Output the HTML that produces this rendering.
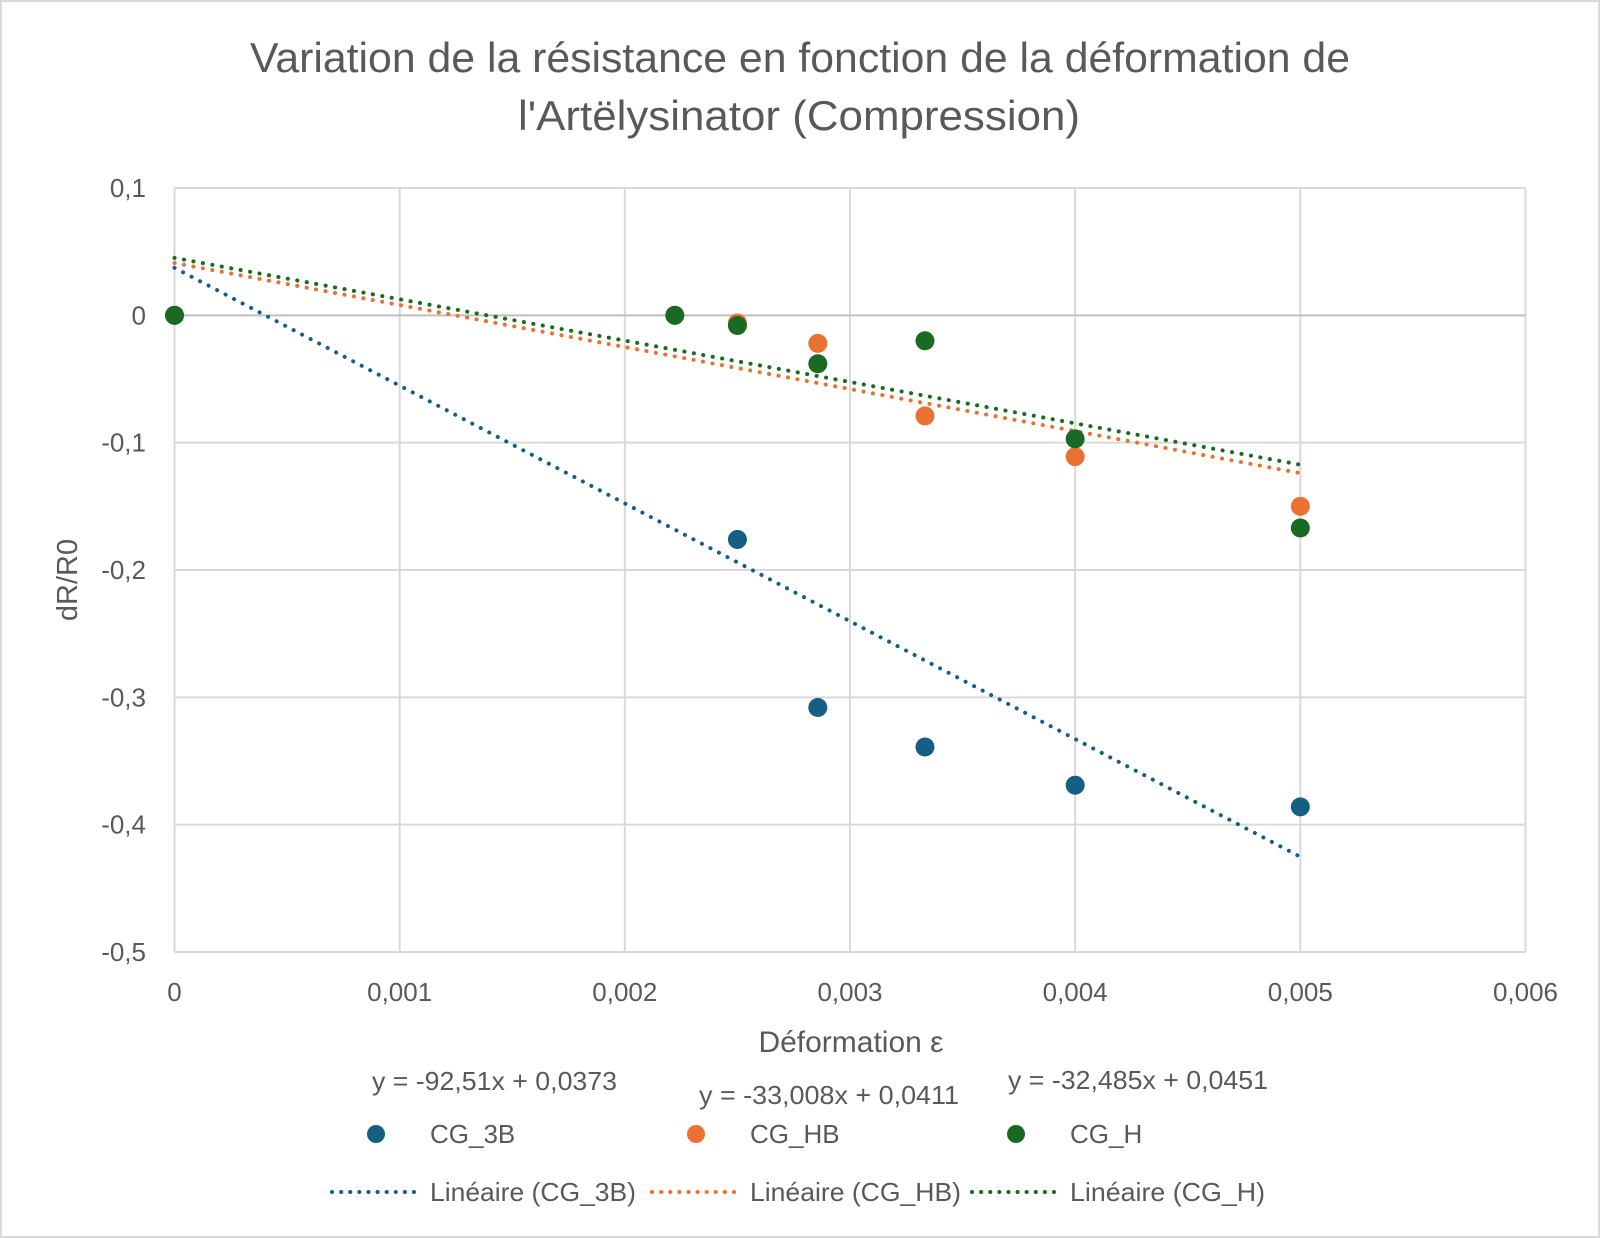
<!DOCTYPE html>
<html><head><meta charset="utf-8"><style>
html,body{margin:0;padding:0;background:#fff}
svg{display:block}
text{font-family:"Liberation Sans Narrow","Liberation Sans",sans-serif;fill:#595959}
</style></head><body>
<svg id="chart" width="1600" height="1238" viewBox="0 0 1600 1238" xmlns="http://www.w3.org/2000/svg">
<rect x="1" y="1" width="1598" height="1236" fill="#fff" stroke="#d9d9d9" stroke-width="2"/>
<text x="250" y="72" font-size="42" textLength="1100" lengthAdjust="spacingAndGlyphs">Variation de la résistance en fonction de la déformation de</text>
<text x="518" y="130" font-size="42" textLength="562" lengthAdjust="spacingAndGlyphs">l'Artëlysinator  (Compression)</text>
<g id="grid"></g>
<g id="ticks"></g>
<g id="trends"></g>
<g id="points"></g>
<text x="851" y="1052" font-size="30" text-anchor="middle">Déformation ε</text>
<text transform="translate(77,580) rotate(-90)" font-size="29" text-anchor="middle">dR/R0</text>
<text x="372" y="1090" font-size="26" textLength="245" lengthAdjust="spacingAndGlyphs">y = -92,51x + 0,0373</text>
<text x="699" y="1104" font-size="26" textLength="260" lengthAdjust="spacingAndGlyphs">y = -33,008x + 0,0411</text>
<text x="1008" y="1089" font-size="26" textLength="260" lengthAdjust="spacingAndGlyphs">y = -32,485x + 0,0451</text>
<g>
<circle cx="376" cy="1134" r="9" fill="#156082"/>
<text x="430" y="1143" font-size="26">CG_3B</text>
<circle cx="696" cy="1134" r="9" fill="#E97132"/>
<text x="750" y="1143" font-size="26">CG_HB</text>
<circle cx="1016" cy="1134" r="9" fill="#196B24"/>
<text x="1070" y="1143" font-size="26">CG_H</text>
<line x1="332" y1="1192" x2="420" y2="1192" stroke="#156082" stroke-width="4" stroke-linecap="round" stroke-dasharray="0.1 9"/>
<text x="430" y="1201" font-size="26" textLength="206" lengthAdjust="spacingAndGlyphs">Linéaire (CG_3B)</text>
<line x1="652" y1="1192" x2="738" y2="1192" stroke="#E97132" stroke-width="4" stroke-linecap="round" stroke-dasharray="0.1 9"/>
<text x="750" y="1201" font-size="26" textLength="211" lengthAdjust="spacingAndGlyphs">Linéaire (CG_HB)</text>
<line x1="972" y1="1192" x2="1060" y2="1192" stroke="#196B24" stroke-width="4" stroke-linecap="round" stroke-dasharray="0.1 9"/>
<text x="1070" y="1201" font-size="26" textLength="195" lengthAdjust="spacingAndGlyphs">Linéaire (CG_H)</text>
</g>
</svg>
<script>
const xTicks=[0,0.001,0.002,0.003,0.004,0.005,0.006];
const xTickLabels=["0","0,001","0,002","0,003","0,004","0,005","0,006"];
const yTicks=[0.1,0,-0.1,-0.2,-0.3,-0.4,-0.5];
const yTickLabels=["0,1","0","-0,1","-0,2","-0,3","-0,4","-0,5"];
const seriesNames=["CG_3B","CG_HB","CG_H"];
const seriesColors=["#156082","#E97132","#196B24"];
const xs3B=[0,0.0025,0.002857,0.003333,0.004,0.005];
const ys3B=[0,-0.176,-0.308,-0.339,-0.369,-0.386];
const xsHB=[0,0.002222,0.0025,0.002857,0.003333,0.004,0.005];
const ysHB=[0,0,-0.006,-0.022,-0.079,-0.111,-0.150];
const xsH=[0,0.002222,0.0025,0.002857,0.003333,0.004,0.005];
const ysH=[0,0,-0.008,-0.038,-0.020,-0.097,-0.167];
const slopes=[-92.51,-33.008,-32.485];
const intercepts=[0.0373,0.0411,0.0451];
const trendRange=[0,0.005];

const L=174.5,R=1525.5,T=188,B=952;
const sx=v=>L+(v-0)/(0.006-0)*(R-L);
const sy=v=>T+(0.1-v)/(0.1-(-0.5))*(B-T);
const NS="http://www.w3.org/2000/svg";
function mk(tag,attrs,parent){const e=document.createElementNS(NS,tag);for(const k in attrs)e.setAttribute(k,attrs[k]);document.getElementById(parent).appendChild(e);return e;}

xTicks.forEach((v,i)=>{
  const l=mk('line',{x1:sx(v),x2:sx(v),y1:T,y2:B,stroke:'#d9d9d9','stroke-width':2},'grid');
  
  
  const t=mk('text',{x:sx(v),y:1001,'font-size':26,'text-anchor':'middle'},'ticks');
  t.textContent=xTickLabels[i];
  
  
});
yTicks.forEach((v,i)=>{
  const l=mk('line',{x1:L,x2:R,y1:sy(v),y2:sy(v),stroke:v===0?'#bfbfbf':'#d9d9d9','stroke-width':2},'grid');
  
  
  const t=mk('text',{x:146,y:sy(v)+9,'font-size':26,'text-anchor':'end'},'ticks');
  t.textContent=yTickLabels[i];
  
  
});
slopes.forEach((m,i)=>{
  const x0=trendRange[0],x1=trendRange[1];
  const l=mk('line',{x1:sx(x0),y1:sy(m*x0+intercepts[i]),x2:sx(x1),y2:sy(m*x1+intercepts[i]),stroke:seriesColors[i],'stroke-width':4,'stroke-linecap':'round','stroke-dasharray':'0.1 9.5'},'trends');
  
  
});
[[xs3B,ys3B],[xsHB,ysHB],[xsH,ysH]].forEach((s,i)=>{
  s[0].forEach((x,j)=>{
    const c=mk('circle',{cx:sx(x),cy:sy(s[1][j]),r:9.5,fill:seriesColors[i]},'points');
    
    
  });
});
</script>
</body></html>
